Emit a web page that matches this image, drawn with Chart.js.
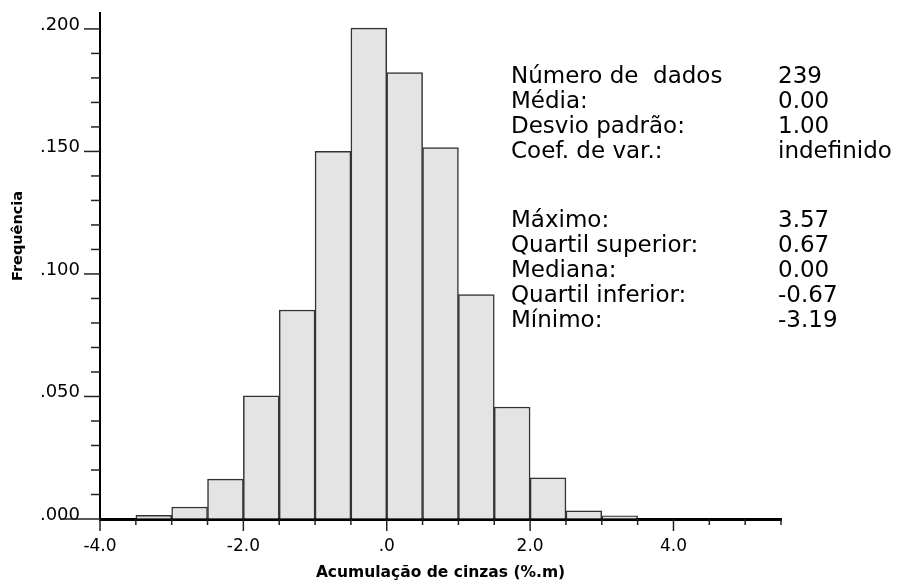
<!DOCTYPE html>
<html>
<head>
<meta charset="utf-8">
<script src="https://cdn.jsdelivr.net/npm/chart.js@4/dist/chart.umd.min.js"></script>
<style>
  html, body { margin: 0; padding: 0; background: #fff; }
  #wrap { width: 904px; height: 582px; position: relative; }
</style>
</head>
<body>
<div id="wrap"><canvas id="c"></canvas></div>
<script>
// ---- data ----
const binCenters = [-3.25, -2.75, -2.25, -1.75, -1.25, -0.75, -0.25, 0.25, 0.75, 1.25, 1.75, 2.25, 2.75, 3.25];
const frequencies = [0.0015, 0.0049, 0.0163, 0.0503, 0.0853, 0.1500, 0.2003, 0.1822, 0.1516, 0.0916, 0.0457, 0.0168, 0.0033, 0.0013];
const xMajorTicks = [-4, -2, 0, 2, 4];
const xTickLabels = ['-4.0', '-2.0', '.0', '2.0', '4.0'];
const yMajorTicks = [0, 0.05, 0.10, 0.15, 0.20];
const yTickLabels = ['.000', '.050', '.100', '.150', '.200'];
const statLabels = ['Número de  dados', 'Média:', 'Desvio padrão:', 'Coef. de var.:', '', 'Máximo:', 'Quartil superior:', 'Mediana:', 'Quartil inferior:', 'Mínimo:'];
const statValues = ['239', '0.00', '1.00', 'indefinido', '', '3.57', '0.67', '0.00', '-0.67', '-3.19'];
const xTitle = 'Acumulação de cinzas (%.m)';
const yTitle = 'Frequência';

const near = (a, b) => Math.abs(a - b) < 1e-6;
const majorIndex = (arr, v) => arr.findIndex(m => near(m, v));

const decorPlugin = {
  id: 'decor',
  afterDraw(chart) {
    const ctx = chart.ctx;
    const xs = chart.scales.x, ys = chart.scales.y;
    ctx.save();
    ctx.strokeStyle = '#222';
    ctx.lineWidth = 1.5;
    // x tick marks
    xs.ticks.forEach(t => {
      const px = xs.getPixelForValue(t.value);
      const len = majorIndex(xMajorTicks, t.value) >= 0 ? 12 : 6;
      ctx.beginPath();
      ctx.moveTo(px, ys.bottom);
      ctx.lineTo(px, ys.bottom + len);
      ctx.stroke();
    });
    // y tick marks
    ys.ticks.forEach(t => {
      const py = ys.getPixelForValue(t.value);
      const mi = majorIndex(yMajorTicks, t.value);
      const len = mi === 0 ? 40 : (mi > 0 ? 16 : 9);
      ctx.beginPath();
      ctx.moveTo(xs.left, py);
      ctx.lineTo(xs.left - len, py);
      ctx.stroke();
    });
    // y axis title (rotated)
    ctx.fillStyle = '#000';
    ctx.font = 'bold 14.5px "DejaVu Sans"';
    ctx.textAlign = 'center';
    ctx.textBaseline = 'middle';
    ctx.translate(18, 236);
    ctx.rotate(-Math.PI / 2);
    ctx.fillText(yTitle, 0, 0);
    ctx.restore();

    // statistics block
    ctx.save();
    ctx.fillStyle = '#000';
    ctx.font = '23px "DejaVu Sans"';
    ctx.textAlign = 'left';
    ctx.textBaseline = 'middle';
    const rowsY = [77, 102, 127, 152, 0, 221, 246, 271, 296, 321];
    statLabels.forEach((lab, i) => {
      if (!lab) return;
      ctx.fillText(lab, 511, rowsY[i]);
      ctx.fillText(statValues[i], 778, rowsY[i]);
    });
    ctx.restore();
  }
};

new Chart(document.getElementById('c'), {
  type: 'bar',
  data: {
    datasets: [{
      data: binCenters.map((x, i) => ({ x: x, y: frequencies[i] })),
      backgroundColor: '#e4e4e4',
      borderColor: '#333',
      borderWidth: 1.5,
      barPercentage: 1.0,
      categoryPercentage: 1.0
    }]
  },
  options: {
    responsive: true,
    maintainAspectRatio: false,
    devicePixelRatio: 1,
    animation: false,
    events: [],
    layout: { padding: { top: 13, right: 123, left: 0, bottom: 0 } },
    plugins: { legend: { display: false }, tooltip: { enabled: false } },
    scales: {
      x: {
        type: 'linear',
        offset: false,
        min: -4,
        max: 5.5,
        z: 1,
        border: { display: true, color: '#000', width: 3 },
        grid: { offset: false, drawOnChartArea: false, drawTicks: true, tickLength: 16, tickColor: 'rgba(0,0,0,0)' },
        ticks: {
          stepSize: 0.5,
          autoSkip: false,
          maxRotation: 0,
          padding: 1,
          color: '#000',
          font: { family: 'DejaVu Sans', size: 17 },
          callback: v => { const i = majorIndex(xMajorTicks, v); return i >= 0 ? xTickLabels[i] : ''; }
        },
        title: {
          display: true,
          text: xTitle,
          color: '#000',
          font: { family: 'DejaVu Sans', size: 15.5, weight: 'bold' },
          padding: { top: 0, bottom: 0 }
        },
        afterFit: s => { s.height = 63; }
      },
      y: {
        min: 0,
        max: 0.2065,
        z: 1,
        border: { display: true, color: '#000', width: 2 },
        grid: { drawOnChartArea: false, drawTicks: true, tickLength: 19, tickColor: 'rgba(0,0,0,0)' },
        ticks: {
          stepSize: 0.01,
          includeBounds: false,
          autoSkip: false,
          padding: 1,
          labelOffset: -4,
          color: '#000',
          font: { family: 'DejaVu Sans', size: 18 },
          callback: v => { const i = majorIndex(yMajorTicks, v); return i >= 0 ? yTickLabels[i] : ''; }
        },
        afterFit: s => { s.width = 100; }
      }
    }
  },
  plugins: [decorPlugin]
});
</script>
</body>
</html>
